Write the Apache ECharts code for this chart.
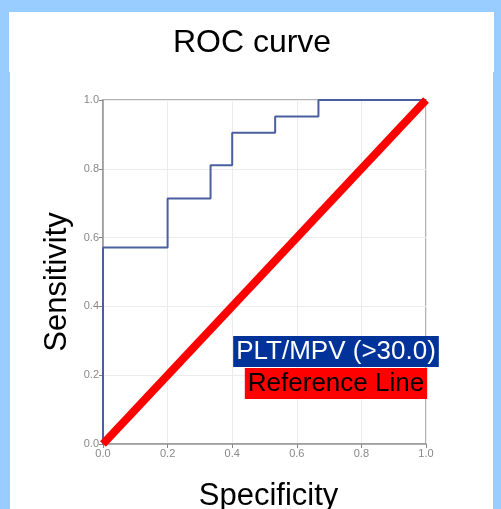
<!DOCTYPE html>
<html><head><meta charset="utf-8">
<script src="https://cdn.jsdelivr.net/npm/echarts@6/dist/echarts.min.js"></script>
<style>html,body{margin:0;padding:0;background:#99ccff;}#c{width:501px;height:509px;}</style>
</head><body><div id="c"></div>
<script>
const rocX = [0, 0, 0.2, 0.2, 0.333, 0.333, 0.4, 0.4, 0.533, 0.533, 0.667, 0.667, 1.0];
const rocY = [0, 0.571, 0.571, 0.714, 0.714, 0.810, 0.810, 0.905, 0.905, 0.952, 0.952, 1.0, 1.0];
const refX = [0, 1];
const refY = [0, 1];
const ticks = [0, 0.2, 0.4, 0.6, 0.8, 1.0];
const seriesNames = ['PLT/MPV (>30.0)', 'Reference Line'];

const chart = echarts.init(document.getElementById('c'));
const font = '"Liberation Sans", Arial, sans-serif';
const axisCommon = {
  type: 'value', min: 0, max: 1, interval: 0.2,
  axisLine: {show: true, onZero: false, lineStyle: {color: '#999', width: 1.5}},
  axisTick: {show: true, length: 4, lineStyle: {color: '#888'}},
  axisLabel: {color: '#888', fontSize: 11, fontFamily: font, formatter: v => v.toFixed(1), margin: 4},
  splitLine: {show: true, lineStyle: {color: '#ececec'}},
  nameLocation: 'middle'
};
chart.setOption({
  animation: false,
  backgroundColor: '#99ccff',
  graphic: [
    {type: 'rect', shape: {x: 9, y: 12, width: 485, height: 60}, style: {fill: '#fff'}, z: -10},
    {type: 'rect', shape: {x: 10, y: 70, width: 483, height: 439}, style: {fill: '#fff'}, z: -10}
  ],
  title: [
    {text: 'ROC curve', left: 247, top: 22, textAlign: 'center',
     textStyle: {fontSize: 32, fontWeight: 'normal', color: '#000', fontFamily: font}},
    {text: seriesNames[0], left: 333, top: 336, textAlign: 'center', padding: [0, 3, 0, 3],
     backgroundColor: '#003399',
     textStyle: {fontSize: 26, fontWeight: 'normal', color: '#fff', fontFamily: font, lineHeight: 31}},
    {text: seriesNames[1], left: 333, top: 368, textAlign: 'center', padding: [0, 3, 0, 3],
     backgroundColor: '#ff0000',
     textStyle: {fontSize: 26, fontWeight: 'normal', color: '#000', fontFamily: font, lineHeight: 31}}
  ],
  grid: {left: 103, right: 75, top: 100, bottom: 65, show: true, borderColor: '#999', borderWidth: 1.5,
    containLabel: false, outerBoundsMode: 'none'},
  xAxis: Object.assign({}, axisCommon, {name: 'Specificity', nameGap: 37,
    nameTextStyle: {color: '#000', fontSize: 31, fontFamily: font, padding: [0, 0, 0, 8]}}),
  yAxis: Object.assign({}, axisCommon, {name: 'Sensitivity', nameGap: 29,
    nameTextStyle: {color: '#000', fontSize: 31, fontFamily: font, padding: [0, 20, 0, 0]}}),
  series: [
    {name: seriesNames[0], type: 'line', symbol: 'none', data: rocX.map((x, i) => [x, rocY[i]]),
     lineStyle: {color: '#4a5fa0', width: 2}, z: 3},
    {name: seriesNames[1], type: 'line', symbol: 'none', data: refX.map((x, i) => [x, refY[i]]),
     lineStyle: {color: '#ff0000', width: 8, cap: 'butt'}, z: 4}
  ]
});
</script></body></html>
